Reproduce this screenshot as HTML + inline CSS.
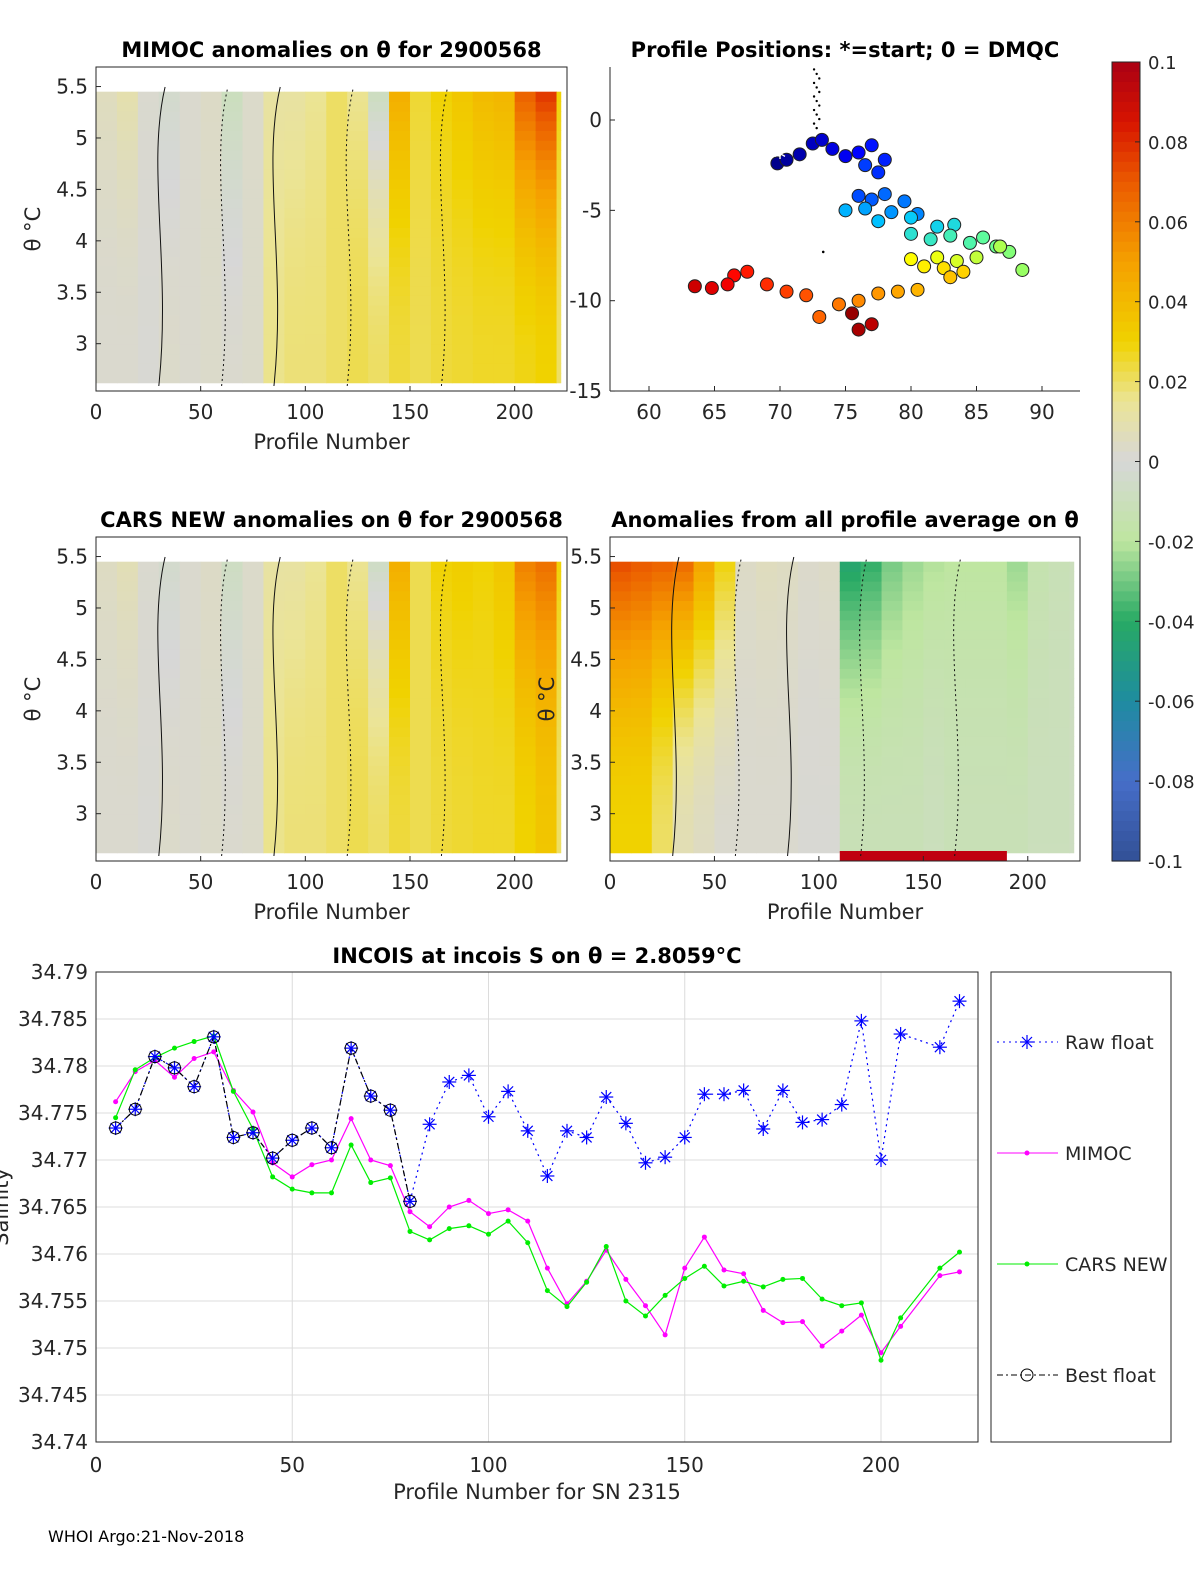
<!DOCTYPE html>
<html><head><meta charset="utf-8"><style>
body{margin:0;background:#fff;font-family:"Liberation Sans","DejaVu Sans",sans-serif}
svg text{font-family:"DejaVu Sans","Liberation Sans",sans-serif}
</style></head><body>
<svg id="fig" width="1200" height="1575" viewBox="0 0 1200 1575" xmlns="http://www.w3.org/2000/svg">
<rect width="1200" height="1575" fill="#fff"/>
<g id="g"></g>
</svg>
<script>
// ---------- data ----------
const binStarts=[0,10,20,30,40,50,60,70,80,90,100,110,120,130,140,150,160,170,180,190,200,210,220];
const mimocUpper=[0.006,0.01,0.002,-0.004,0.002,0.004,-0.01,0.003,0.012,0.012,0.015,0.02,0.015,-0.01,0.045,0.025,0.03,0.035,0.04,0.042,0.07,0.08,0.03];
const mimocLower=[0.002,0.002,0.001,0.003,0.002,0.003,0.002,0.003,0.016,0.018,0.018,0.02,0.022,0.02,0.024,0.022,0.024,0.025,0.026,0.026,0.028,0.03,0.02];
const carsUpper=[0.005,0.008,0.002,-0.004,0.002,0.004,-0.008,0.003,0.012,0.012,0.015,0.02,0.015,-0.008,0.045,0.022,0.03,0.032,0.03,0.035,0.06,0.065,0.03];
const carsLower=[0.002,0.002,0.001,0.003,0.002,0.003,0.002,0.003,0.016,0.018,0.018,0.02,0.022,0.02,0.024,0.022,0.024,0.025,0.026,0.026,0.03,0.035,0.02];
const allUpper=[0.075,0.072,0.07,0.068,0.05,0.03,0.004,0.006,0.005,0.003,0.004,-0.045,-0.04,-0.03,-0.025,-0.022,-0.02,-0.02,-0.02,-0.025,-0.015,-0.012,-0.01];
const allLower=[0.03,0.03,0.02,0.008,0.005,0.002,0.002,0.002,0.002,0.001,0.001,-0.012,-0.012,-0.012,-0.012,-0.01,-0.012,-0.012,-0.012,-0.012,-0.01,-0.01,-0.008];
const trackLon=[69.8,70.5,71.5,72.5,73.2,74,75,76,77,78,77.5,76.5,76,77,78,79.5,80.5,78.5,76.5,75,77.5,80,82,83.3,80,81.5,83,84.5,85.5,86.5,87.5,88.5,86.8,85,83.5,82,80,81,82.5,84,83,80.5,79,77.5,76,74.5,73,72,70.5,69,67.5,66.5,66,64.8,63.5,77,76,75.5];
const trackLat=[-2.4,-2.2,-1.9,-1.3,-1.1,-1.6,-2,-1.8,-1.4,-2.2,-2.9,-2.5,-4.2,-4.4,-4.1,-4.5,-5.2,-5.1,-4.9,-5,-5.6,-5.4,-5.9,-5.8,-6.3,-6.6,-6.4,-6.8,-6.5,-7,-7.3,-8.3,-7,-7.6,-7.8,-7.6,-7.7,-8.1,-8.2,-8.4,-8.7,-9.4,-9.5,-9.6,-10,-10.2,-10.9,-9.7,-9.5,-9.1,-8.4,-8.6,-9.1,-9.3,-9.2,-11.3,-11.6,-10.7];
const profX=[5,10,15,20,25,30,35,40,45,50,55,60,65,70,75,80,85,90,95,100,105,110,115,120,125,130,135,140,145,150,155,160,165,170,175,180,185,190,195,200,205,215,220];
const rawS=[34.7734,34.7754,34.781,34.7798,34.7778,34.7831,34.7724,34.7729,34.7702,34.7721,34.7734,34.7713,34.7819,34.7768,34.7753,34.7656,34.7738,34.7783,34.779,34.7746,34.7773,34.7731,34.7683,34.7731,34.7724,34.7767,34.7739,34.7697,34.7703,34.7724,34.777,34.777,34.7774,34.7733,34.7774,34.774,34.7743,34.7759,34.7848,34.770,34.7834,34.782,34.7869];
const mimocS=[34.7762,34.7794,34.7806,34.7788,34.7808,34.7815,34.7774,34.7751,34.7697,34.7682,34.7695,34.770,34.7744,34.770,34.7694,34.7645,34.7629,34.765,34.7657,34.7643,34.7647,34.7635,34.7585,34.7547,34.7571,34.7604,34.7573,34.7545,34.7514,34.7585,34.7618,34.7583,34.7579,34.754,34.7527,34.7528,34.7502,34.7518,34.7535,34.7495,34.7523,34.7577,34.7581];
const carsS=[34.7745,34.7796,34.7809,34.7819,34.7826,34.7832,34.7773,34.7733,34.7682,34.7669,34.7665,34.7665,34.7716,34.7676,34.7681,34.7624,34.7615,34.7627,34.763,34.7621,34.7635,34.7612,34.7561,34.7544,34.757,34.7608,34.755,34.7534,34.7556,34.7574,34.7587,34.7566,34.7571,34.7565,34.7573,34.7574,34.7552,34.7545,34.7548,34.7487,34.7532,34.7585,34.7602];
const bestCount=16;
const yTicksS=[34.74,34.745,34.75,34.755,34.76,34.765,34.77,34.775,34.78,34.785,34.79];
const xTicksS=[0,50,100,150,200];
const thetaTicks=[3,3.5,4,4.5,5,5.5];
const cbTicks=[0.1,0.08,0.06,0.04,0.02,0,-0.02,-0.04,-0.06,-0.08,-0.1];

// ---------- helpers ----------
const NS="http://www.w3.org/2000/svg", G=document.getElementById('g');
function el(t,a,p){const e=document.createElementNS(NS,t);for(const k in a)e.setAttribute(k,a[k]);(p||G).appendChild(e);return e;}
function txt(x,y,s,a,p){const e=el('text',Object.assign({x:x,y:y,'font-size':20,fill:'#262626'},a||{}),p);e.textContent=s;return e;}
const stops=[[-0.1,[50,80,150]],[-0.08,[70,110,200]],[-0.06,[30,140,160]],[-0.04,[40,170,100]],[-0.02,[190,230,160]],[0,[215,215,215]],[0.015,[235,228,150]],[0.03,[240,210,0]],[0.05,[245,160,0]],[0.07,[235,90,0]],[0.085,[215,20,0]],[0.1,[170,0,20]]];
function cmap(v){v=Math.max(-0.1,Math.min(0.1,v));for(let i=1;i<stops.length;i++){if(v<=stops[i][0]){const a=stops[i-1],b=stops[i],t=(v-a[0])/(b[0]-a[0]);const c=a[1].map((x,j)=>Math.round(x+(b[1][j]-x)*t));return `rgb(${c})`;}}return 'rgb(170,0,20)';}
const jetStops=[[0,[0,0,140]],[0.12,[0,0,255]],[0.36,[0,200,255]],[0.5,[100,255,150]],[0.63,[255,255,0]],[0.78,[255,130,0]],[0.9,[255,0,0]],[1,[150,0,0]]];
function jet(t){for(let i=1;i<jetStops.length;i++){if(t<=jetStops[i][0]){const a=jetStops[i-1],b=jetStops[i],f=(t-a[0])/(b[0]-a[0]);return `rgb(${a[1].map((x,j)=>Math.round(x+(b[1][j]-x)*f))})`;}}return 'rgb(150,0,0)';}
function frame(x0,y0,x1,y1,name){el('rect',{x:x0,y:y0,width:x1-x0,height:y1-y0,fill:'none',stroke:'#262626','stroke-width':1,});}

// ---------- heatmap panels ----------
function heat(px0,py0,px1,py1,upper,lower,name,title,ylab,extraRed){
  const g=el('g',{});
  const xs=v=>px0+(v)*(px1-px0)/225, ys=t=>py1-(t-2.54)*(py1-py0)/(5.69-2.54);
  const nRows=30;
  binStarts.forEach((b,i)=>{
    const e=Math.min(b+10,222);
    for(let r=0;r<nRows;r++){
      const t0=2.62+r*(5.45-2.62)/nRows, t1=t0+(5.45-2.62)/nRows;
      const f=(t0-2.62)/(5.45-2.62), v=lower[i]+(upper[i]-lower[i])*f*f;
      const c=el('rect',{x:xs(b),y:ys(t1),width:xs(e)-xs(b)+0.5,height:ys(t0)-ys(t1)+0.5,fill:cmap(v)},g);
      
      
    }
  });
  if(extraRed){el('rect',{x:xs(110),y:py1-10,width:xs(190)-xs(110),height:10,fill:'#c00010',},g);}
  [[30,'none'],[85,'none'],[120,'2,3'],[165,'2,3'],[60,'2,3']].forEach(([p,d])=>{
    el('path',{d:`M${xs(p)},${py1-5} C${xs(p+6)},${py0+200} ${xs(p-6)},${py0+100} ${xs(p+3)},${py0+20}`,fill:'none',stroke:'#111','stroke-width':1,'stroke-dasharray':d},g);
  });
  frame(px0,py0,px1,py1,name+'-axes');
  [0,50,100,150,200].forEach(v=>{el('line',{x1:xs(v),x2:xs(v),y1:py1,y2:py1-5,stroke:'#262626'});txt(xs(v),py1+28,v,{'text-anchor':'middle'});});
  thetaTicks.forEach(t=>{el('line',{x1:px0,x2:px0+5,y1:ys(t),y2:ys(t),stroke:'#262626'});txt(px0-8,ys(t)+7,t,{'text-anchor':'end'});});
  txt((px0+px1)/2,py1+58,'Profile Number',{'text-anchor':'middle','font-size':21,});
  if(ylab) txt(0,0,'θ °C',{transform:`translate(${px0-56},${(py0+py1)/2}) rotate(-90)`,'text-anchor':'middle','font-size':21,});
  txt((px0+px1)/2,py0-10,title,{'text-anchor':'middle','font-weight':'bold','font-size':21,fill:'#000',});
}
heat(96,67,567,391,mimocUpper,mimocLower,'mimoc-heatmap','MIMOC anomalies on θ  for 2900568',true,false);
heat(96,537,567,861,carsUpper,carsLower,'cars-heatmap','CARS NEW anomalies on θ for 2900568',true,false);
heat(610,537,1080,861,allUpper,allLower,'all-avg-heatmap','Anomalies from all profile average on θ',true,true);

// ---------- map ----------
(function(){
  const x0=610,y0=67,x1=1080,y1=391;
  const xs=v=>649+(v-60)*13.1, ys=v=>120-v*18.07;
  const g=el('g',{});
  el('line',{x1:x0,y1:y0,x2:x0,y2:y1,stroke:'#262626'},g);
  el('line',{x1:x0,y1:y1,x2:x1,y2:y1,stroke:'#262626'},g);
  [60,65,70,75,80,85,90].forEach(v=>{el('line',{x1:xs(v),x2:xs(v),y1:y1,y2:y1-5,stroke:'#262626'},g);txt(xs(v),y1+28,v,{'text-anchor':'middle'},g);});
  [0,-5,-10,-15].forEach(v=>{el('line',{x1:x0,x2:x0+5,y1:ys(v),y2:ys(v),stroke:'#262626'},g);txt(x0-8,ys(v)+7,v,{'text-anchor':'end'},g);});
  for(let i=0;i<14;i++){el('circle',{cx:xs(72.6+ (i%3)*0.2),cy:ys(2.8-i*0.25),r:1.2,fill:'#000'},g);}
  el('circle',{cx:xs(73.3),cy:ys(-7.3),r:1.3,fill:'#000'},g);
  const n=trackLon.length;
  trackLon.forEach((lo,i)=>{const c=el('circle',{cx:xs(lo),cy:ys(trackLat[i]),r:6.5,fill:jet(i/(n-1)),stroke:'#222','stroke-width':1},g);
    
    });
  txt(xs(70),ys(-2.2)+6,'*',{fill:'#fff','font-size':24,'text-anchor':'middle'},g);
  txt(845,57,'Profile Positions: *=start; 0 = DMQC',{'text-anchor':'middle','font-weight':'bold','font-size':21,fill:'#000',});
})();

// ---------- colorbar ----------
(function(){
  const g=el('g',{});
  const y0=62,y1=861,N=80;
  for(let i=0;i<N;i++){const v=0.1-0.2*(i+0.5)/N;el('rect',{x:1112,y:y0+i*(y1-y0)/N,width:28,height:(y1-y0)/N+0.6,fill:cmap(v)},g);}
  el('rect',{x:1112,y:y0,width:28,height:y1-y0,fill:'none',stroke:'#262626'},g);
  cbTicks.forEach(v=>{const y=y0+(0.1-v)/0.2*(y1-y0);el('line',{x1:1135,x2:1140,y1:y,y2:y,stroke:'#262626'},g);txt(1148,y+7,v,{'font-size':18},g);});
})();

// ---------- salinity chart ----------
(function(){
  const x0=96,x1=978,y0=972,y1=1442;
  const xs=v=>x0+v*3.925, ys=v=>y1-(v-34.74)/0.05*(y1-y0);
  const g=el('g',{});
  yTicksS.forEach(v=>{el('line',{x1:x0,x2:x1,y1:ys(v),y2:ys(v),stroke:'#dcdcdc'},g);txt(x0-8,ys(v)+7,v,{'text-anchor':'end'},g);});
  xTicksS.forEach(v=>{el('line',{x1:xs(v),x2:xs(v),y1:y0,y2:y1,stroke:'#dcdcdc'},g);txt(xs(v),y1+30,v,{'text-anchor':'middle'},g);});
  frame(x0,y0,x1,y1,'salinity-axes');
  function line(vals,col,dash,n,name){const pts=vals.slice(0,n).map((v,i)=>xs(profX[i])+','+ys(v)).join(' ');const p=el('polyline',{points:pts,fill:'none',stroke:col,'stroke-width':1.2,'stroke-dasharray':dash},g);}
  line(mimocS,'#ff00ff','none',profX.length,'mimoc-line');
  mimocS.forEach((v,i)=>el('circle',{cx:xs(profX[i]),cy:ys(v),r:2.5,fill:'#ff00ff'},g));
  line(carsS,'#00ee00','none',profX.length,'cars-line');
  carsS.forEach((v,i)=>el('circle',{cx:xs(profX[i]),cy:ys(v),r:2.5,fill:'#00ee00'},g));
  line(rawS,'#0000ff','2,4',profX.length,'raw-float-line');
  line(rawS,'#000','6,3,2,3',bestCount,'best-float-line');
  function star(cx,cy,col,pg){[[0,-7,0,7],[-7,0,7,0],[-5,-5,5,5],[-5,5,5,-5]].forEach(l=>el('line',{x1:cx+l[0],y1:cy+l[1],x2:cx+l[2],y2:cy+l[3],stroke:col,'stroke-width':1.2},pg));}
  rawS.forEach((v,i)=>star(xs(profX[i]),ys(v),'#0000ff',g));
  rawS.slice(0,bestCount).forEach((v,i)=>el('circle',{cx:xs(profX[i]),cy:ys(v),r:6,fill:'none',stroke:'#000'},g));
  txt(537,963,'INCOIS at incois S on θ = 2.8059°C',{'text-anchor':'middle','font-weight':'bold','font-size':21,fill:'#000',});
  txt(537,1499,'Profile Number for SN 2315',{'text-anchor':'middle','font-size':21,});
  txt(0,0,'Salinity',{transform:'translate(8,1207) rotate(-90)','text-anchor':'middle','font-size':21,});
  const lg=el('g',{});
  el('rect',{x:991,y:972,width:180,height:470,fill:'#fff',stroke:'#262626'},lg);
  const ent=[['Raw float','#0000ff','2,4',1042,'star'],['MIMOC','#ff00ff','none',1153,'dot'],['CARS NEW','#00ee00','none',1264,'dot'],['Best float','#000','6,3,2,3',1375,'circ']];
  ent.forEach(e=>{const eg=el('g',{},lg);
    el('line',{x1:997,x2:1058,y1:e[3],y2:e[3],stroke:e[1],'stroke-dasharray':e[2]},eg);
    if(e[4]=='star')star(1027,e[3],'#0000ff',eg);else if(e[4]=='dot')el('circle',{cx:1027,cy:e[3],r:2.5,fill:e[1]},eg);else el('circle',{cx:1027,cy:e[3],r:6,fill:'none',stroke:'#000'},eg);
    txt(1065,e[3]+7,e[0],{'font-size':19},eg);});
})();
txt(48,1542,'WHOI Argo:21-Nov-2018',{'font-size':16,fill:'#000',});
</script>
</body></html>
